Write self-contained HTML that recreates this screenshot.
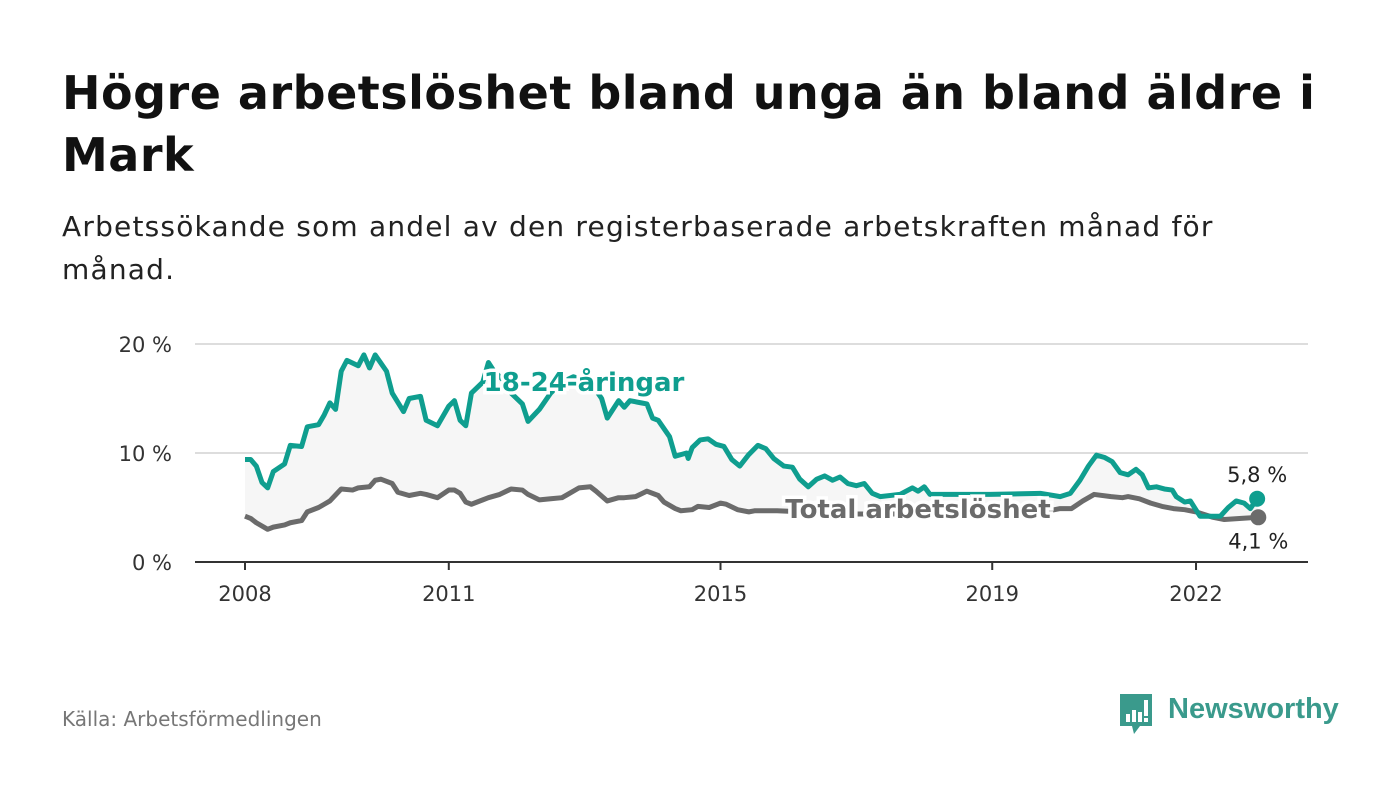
<!DOCTYPE html>
<html><head><meta charset="utf-8">
<style>
body{margin:0;background:#fff;font-family:"DejaVu Sans","Liberation Sans",sans-serif;}
#wrap{position:relative;width:1400px;height:794px;overflow:hidden;background:#fff;}
h1{position:absolute;left:62px;top:62px;margin:0;font-size:46px;line-height:62px;font-weight:bold;color:#111;white-space:nowrap;letter-spacing:0.5px;}
.sub{position:absolute;left:62px;top:205px;margin:0;font-size:28px;line-height:43px;color:#222;white-space:nowrap;letter-spacing:1.2px;}
.src{position:absolute;left:62px;top:707px;font-size:20px;color:#777;}
svg text{font-family:"DejaVu Sans","Liberation Sans",sans-serif;}
</style></head><body>
<div id="wrap">
<h1>Högre arbetslöshet bland unga än bland äldre i<br>Mark</h1>
<p class="sub">Arbetssökande som andel av den registerbaserade arbetskraften månad för<br>månad.</p>
<svg id="chart" width="1400" height="794" style="position:absolute;left:0;top:0"></svg>
<div class="src">Källa: Arbetsförmedlingen</div>
<div style="position:absolute;left:1118px;top:690px;width:230px;height:48px;">
<svg width="40" height="46" style="position:absolute;left:0;top:2px">
<path d="M2 2 H34 V34 H22 L16 42 L14 34 H2 Z" fill="#3a9a8c"/>
<rect x="8" y="22" width="4" height="8" fill="#fff"/><rect x="14" y="18" width="4" height="12" fill="#fff"/><rect x="20" y="20" width="4" height="10" fill="#fff"/><rect x="26" y="8" width="4" height="16" fill="#fff"/><rect x="26" y="26" width="4" height="4" fill="#fff"/>
</svg>
<div style="position:absolute;left:50px;top:3px;font-size:29px;font-weight:bold;color:#3a9a8c;font-family:'Liberation Sans',sans-serif;">Newsworthy</div>
</div>
</div>
<script>
const yTicks=[0,10,20];
const yTickLabels=["0 %","10 %","20 %"];
const xTicks=[2008,2011,2015,2019,2022];
const youthMonths=[0,1,2,3,4,5,7,8,10,11,13,14,15,16,17,18,20,21,22,23,25,26,28,29,31,32,34,36,37,38,39,40,42,43,44,46,47,49,50,52,54,56,58,61,63,64,66,67,68,70,71,72,73,75,76,78,78.3,79,80.4,81.8,83.2,84.6,86,87.4,88.9,90.6,92,93.4,95.2,96.7,98,99.5,101,102.4,103.8,105.1,106.5,108,109.4,110.8,112.2,115.7,117.9,118.9,120,121,131.6,140.5,144,145.8,147.5,149,150.4,151.8,153.2,154.6,156,157.4,158.5,159.6,161,162.4,163.8,164.5,166,167,168.7,170.9,172.3,173.7,175.1,176.5,177.6,178.8];
const youthValues=[9.4,9.4,8.8,7.3,6.8,8.3,9.0,10.7,10.6,12.4,12.6,13.5,14.6,14.0,17.5,18.5,18.0,19.0,17.8,19.0,17.5,15.5,13.8,15.0,15.2,13.0,12.5,14.3,14.8,13.0,12.5,15.5,16.5,18.3,17.5,16.5,15.5,14.5,12.9,14.0,15.5,16.5,17.0,16.5,15.0,13.2,14.8,14.2,14.8,14.6,14.5,13.2,13.0,11.5,9.7,10.0,9.5,10.5,11.2,11.3,10.8,10.6,9.4,8.8,9.8,10.7,10.4,9.5,8.8,8.7,7.6,6.9,7.6,7.9,7.5,7.8,7.2,7.0,7.2,6.3,6.0,6.2,6.8,6.5,6.9,6.2,6.2,6.3,6.0,6.3,7.5,8.8,9.8,9.6,9.2,8.2,8.0,8.5,8.0,6.8,6.9,6.7,6.6,6.0,5.5,5.6,4.2,4.2,4.2,5.0,5.6,5.4,4.9,5.8];
const totalMonths=[0,1,2,4,5,7,8,10,11,13,14,15,17,19,20,22,23,24,26,27,29,31,32,34,36,37,38,39,40,42,43,45,47,49,50,52,54,56,57,59,61,62,64,66,67,69,71,73,74,76,77,79,80,82,84,85,87,89,90,94,107,125,142,144,146,148,150,153,155,156,158,160,162,164,166,168,171,173,176,179];
const totalValues=[4.2,4.0,3.6,3.0,3.2,3.4,3.6,3.8,4.6,5.0,5.3,5.6,6.7,6.6,6.8,6.9,7.5,7.6,7.2,6.4,6.1,6.3,6.2,5.9,6.6,6.6,6.3,5.5,5.3,5.7,5.9,6.2,6.7,6.6,6.2,5.7,5.8,5.9,6.2,6.8,6.9,6.5,5.6,5.9,5.9,6.0,6.5,6.1,5.5,4.9,4.7,4.8,5.1,5.0,5.4,5.3,4.8,4.6,4.7,4.7,4.4,4.4,4.7,4.9,4.9,5.6,6.2,6.0,5.9,6.0,5.8,5.4,5.1,4.9,4.8,4.6,4.1,3.9,4.0,4.1];
const youthEndLabel="5,8 %", totalEndLabel="4,1 %";

const svg=document.getElementById('chart');
const NS='http://www.w3.org/2000/svg';
const x0=245,pxPerYear=67.93,y0=562,pxPerPct=10.9;
const xs=m=>x0+(m/12)*pxPerYear;
const xYear=y=>x0+(y-2008)*pxPerYear;
const ys=v=>y0-v*pxPerPct;
function mk(tag,attrs){const e=document.createElementNS(NS,tag);for(const k in attrs)e.setAttribute(k,attrs[k]);svg.appendChild(e);return e;}
yTicks.forEach((t,i)=>{
 const g=mk('line',{x1:195,x2:1308,y1:ys(t),y2:ys(t),stroke:t===0?'#333':'#ddd','stroke-width':2});
 
 
 const l=mk('text',{x:172,y:ys(t)+8,'text-anchor':'end','font-size':21,fill:'#333'});
 l.textContent=yTickLabels[i];
 
 
});
xTicks.forEach(yr=>{
 const t=mk('line',{x1:xYear(yr),x2:xYear(yr),y1:y0,y2:y0+8,stroke:'#333','stroke-width':2});
 
 
 const l=mk('text',{x:xYear(yr),y:601,'text-anchor':'middle','font-size':21,fill:'#333'});
 l.textContent=yr;
 
 
});
const yp=youthMonths.map((m,i)=>[xs(m),ys(youthValues[i])]);
const tp=totalMonths.map((m,i)=>[xs(m),ys(totalValues[i])]);
const area=mk('polygon',{points:yp.concat(tp.slice().reverse()).map(p=>p.join(',')).join(' '),fill:'#f6f6f6'});


const tl=mk('polyline',{points:tp.map(p=>p.join(',')).join(' '),fill:'none',stroke:'#6b6b6b','stroke-width':5,'stroke-linejoin':'round'});


const yl=mk('polyline',{points:yp.map(p=>p.join(',')).join(' '),fill:'none',stroke:'#0f9e8f','stroke-width':5,'stroke-linejoin':'round'});


const lab1=mk('text',{x:584,y:391,'text-anchor':'middle','font-size':26,'font-weight':'bold',fill:'#0f9e8f',stroke:'#fff','stroke-width':7,'paint-order':'stroke'});
lab1.textContent='18-24-åringar';


const lab2=mk('text',{x:918,y:518,'text-anchor':'middle','font-size':26,'font-weight':'bold',fill:'#6b6b6b',stroke:'#fff','stroke-width':7,'paint-order':'stroke'});
lab2.textContent='Total arbetslöshet';


const ye=yp[yp.length-1], te=tp[tp.length-1];
const d1=mk('circle',{cx:ye[0],cy:ye[1],r:8,fill:'#0f9e8f'});


const d2=mk('circle',{cx:te[0],cy:te[1],r:8,fill:'#6b6b6b'});


const v1=mk('text',{x:ye[0],y:ye[1]-17,'text-anchor':'middle','font-size':21,fill:'#222'});
v1.textContent=youthEndLabel;


const v2=mk('text',{x:te[0],y:te[1]+31,'text-anchor':'middle','font-size':21,fill:'#222'});
v2.textContent=totalEndLabel;


</script>
</body></html>
